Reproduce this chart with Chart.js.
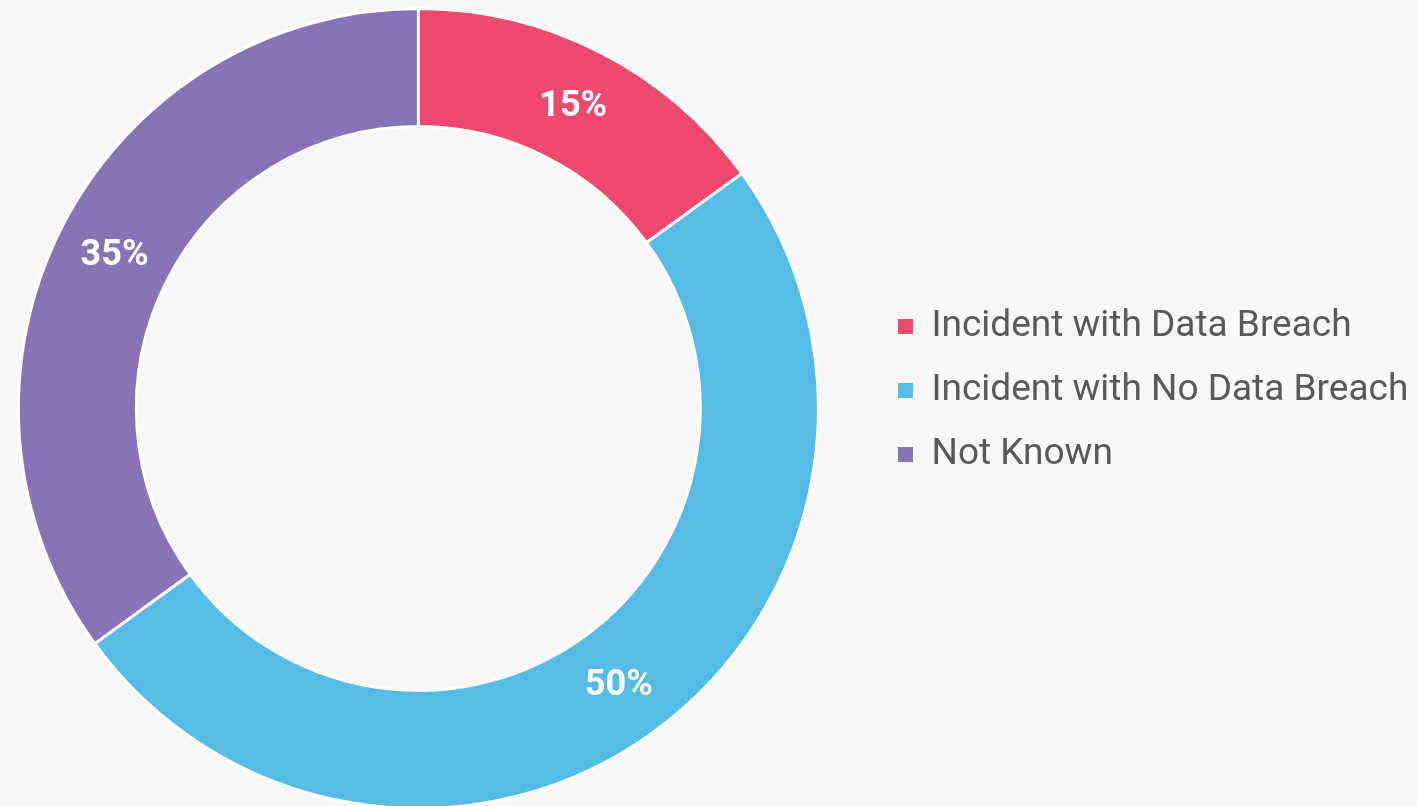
<!DOCTYPE html>
<html>
  <head>
    <title>Incidents</title>
    <style>
      html, body { margin: 0; padding: 0; background: #f8f8f8; overflow: hidden; }
      #wrap { width: 1417px; height: 810px; }
    </style>
  </head>
  <body>
    <div id="wrap">
      <canvas id="canvas"></canvas>
    </div>
    <script src="https://cdn.jsdelivr.net/npm/chart.js@4.4.0/dist/chart.umd.min.js"></script>
    <script>
      const labels = ["Incident with Data Breach", "Incident with No Data Breach", "Not Known"];
      const values = [15, 50, 35];
      const colors = ["#ef496e", "#56bbe6", "#8674b6"];

      // percent labels inside each slice
      const sliceLabels = {
        id: "sliceLabels",
        afterDatasetsDraw(chart) {
          const ctx = chart.ctx;
          const meta = chart.getDatasetMeta(0);
          ctx.save();
          ctx.fillStyle = "#ffffff";
          ctx.font = "bold 36px Roboto";
          ctx.textAlign = "center";
          ctx.textBaseline = "middle";
          meta.data.forEach((arc, i) => {
            const p = arc.tooltipPosition();
            ctx.fillText(values[i] + "%", p.x, p.y + 2);
          });
          ctx.restore();
        }
      };

      // nudge the legend a bit right and up, like the original
      const legendNudge = {
        id: "legendNudge",
        afterLayout(chart) {
          const lg = chart.legend;
          const dx = 871 - lg.left;
          lg.left += dx;
          lg.right += dx;
          lg.top -= 18;
          lg.bottom -= 18;
        }
      };

      const baseLabels = Chart.overrides.doughnut.plugins.legend.labels.generateLabels;

      new Chart(document.getElementById("canvas").getContext("2d"), {
        type: "doughnut",
        data: {
          labels: labels,
          datasets: [
            {
              data: values,
              backgroundColor: colors,
              borderColor: "#ffffff",
              borderWidth: 3
            }
          ]
        },
        options: {
          responsive: true,
          maintainAspectRatio: false,
          animation: false,
          cutout: "70.5%",
          layout: { padding: { top: 7, bottom: 0, left: 0, right: 33 } },
          plugins: {
            tooltip: { enabled: false },
            legend: {
              position: "right",
              labels: {
                color: "#58595b",
                font: { family: "Roboto", size: 37 },
                boxWidth: 15,
                boxHeight: 15,
                padding: 27,
                generateLabels: (chart) =>
                  baseLabels(chart).map((l) => Object.assign(l, { lineWidth: 0, strokeStyle: "transparent" }))
              }
            }
          }
        },
        plugins: [sliceLabels, legendNudge]
      });
    </script>
  </body>
</html>
